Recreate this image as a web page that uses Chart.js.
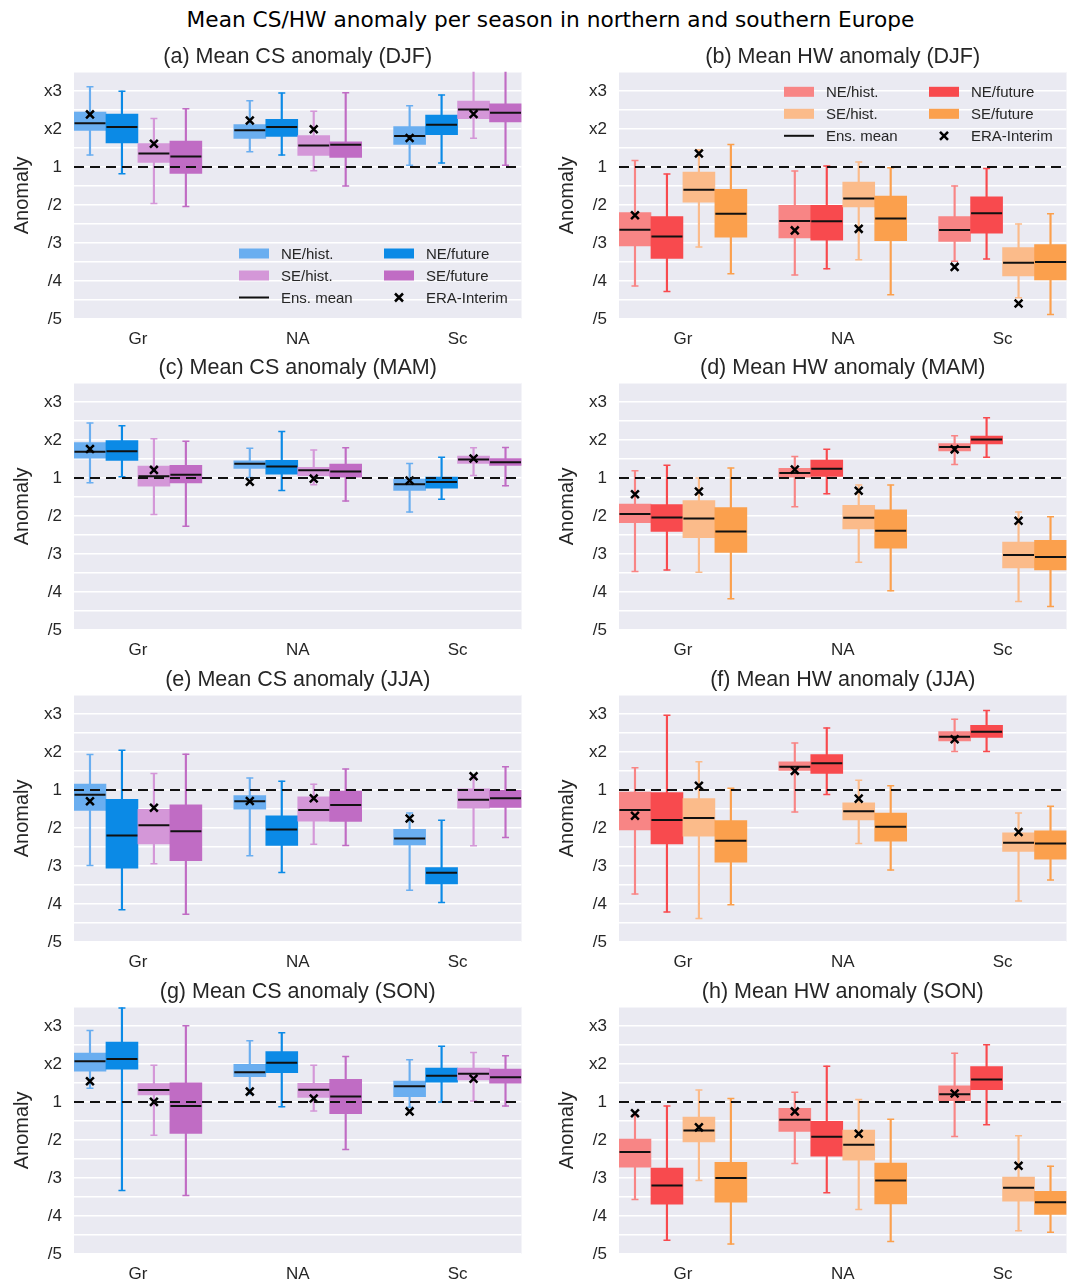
<!DOCTYPE html>
<html>
<head>
<meta charset="utf-8">
<script src="https://cdn.jsdelivr.net/npm/chart.js@4.4.1/dist/chart.umd.min.js"></script>
<style>
html, body { margin: 0; padding: 0; background: #fff; width: 1073px; height: 1282px; overflow: hidden; }
#suptitle { position: absolute; left: 0; top: 7px; width: 1101px; text-align: center; font: 21.7px "DejaVu Sans"; color: #000; }
canvas { position: absolute; }
</style>
</head>
<body>
<div id="suptitle">Mean CS/HW anomaly per season in northern and southern Europe</div>
<script>
const categories = ['Gr', 'NA', 'Sc'];
const seriesNames = ['NE/hist.', 'NE/future', 'SE/hist.', 'SE/future'];
const yTickValues = [-4, -3, -2, -1, 0, 1, 2];
const yTickLabels = ['/5', '/4', '/3', '/2', '1', 'x2', 'x3'];
const csColors = ['#6aaef0', '#0b8ae6', '#d497d8', '#c06cc4'];
const hwColors = ['#f88585', '#f84a4e', '#fbbb8a', '#fba04d'];

// values in axis units: 0 = 1, 1 = x2, 2 = x3, -1 = /2, -2 = /3 ...
// 12 boxes per panel: Gr, NA, Sc, each NE/hist, NE/future, SE/hist, SE/future
// ERA-Interim: Gr NE, Gr SE, NA NE, NA SE, Sc NE, Sc SE

const csDjfLow = [0.31, -0.18, -0.96, -1.04, 0.40, 0.31, -0.10, -0.50, 0.04, 0.10, 0.75, 0.04];
const csDjfQ1 = [0.96, 0.63, 0.12, -0.17, 0.75, 0.80, 0.30, 0.25, 0.59, 0.85, 1.27, 1.18];
const csDjfMed = [1.15, 1.05, 0.35, 0.27, 0.96, 1.05, 0.56, 0.58, 0.81, 1.11, 1.51, 1.42];
const csDjfQ3 = [1.44, 1.39, 0.61, 0.68, 1.11, 1.25, 0.82, 0.66, 1.06, 1.36, 1.73, 1.66];
const csDjfHigh = [2.11, 1.99, 1.27, 1.53, 1.74, 1.94, 1.46, 1.95, 1.61, 1.89, 2.8, 2.8];
const csDjfEra = [1.38, 0.61, 1.22, 0.99, 0.76, 1.39];

const hwDjfLow = [-3.13, -3.28, -2.11, -2.81, -2.84, -2.68, -2.44, -3.36, -2.48, -2.42, -3.44, -3.88];
const hwDjfQ1 = [-2.08, -2.41, -0.93, -1.85, -1.87, -1.93, -1.05, -1.94, -1.96, -1.74, -2.87, -2.97];
const hwDjfMed = [-1.65, -1.83, -0.60, -1.23, -1.42, -1.43, -0.83, -1.36, -1.66, -1.22, -2.52, -2.50];
const hwDjfQ3 = [-1.20, -1.31, -0.14, -0.59, -1.01, -1.01, -0.40, -0.77, -1.31, -0.79, -2.12, -2.04];
const hwDjfHigh = [0.17, -0.19, 0.45, 0.59, -0.11, 0.02, 0.13, -0.02, -0.50, -0.04, -1.50, -1.23];
const hwDjfEra = [-1.27, 0.35, -1.67, -1.63, -2.63, -3.59];

const csMamLow = [-0.13, 0.03, -0.96, -1.27, 0.01, -0.33, -0.18, -0.61, -0.90, -0.56, 0.06, -0.21];
const csMamQ1 = [0.52, 0.46, -0.22, -0.13, 0.25, 0.10, 0.06, 0.02, -0.33, -0.27, 0.38, 0.33];
const csMamMed = [0.69, 0.70, 0.04, 0.08, 0.37, 0.30, 0.20, 0.17, -0.17, -0.11, 0.48, 0.41];
const csMamQ3 = [0.93, 0.98, 0.31, 0.33, 0.45, 0.46, 0.28, 0.36, -0.03, 0.02, 0.57, 0.51];
const csMamHigh = [1.44, 1.37, 1.03, 0.96, 0.78, 1.22, 0.73, 0.79, 0.38, 0.54, 0.79, 0.80];
const csMamEra = [0.76, 0.21, -0.10, -0.02, -0.07, 0.51];

const hwMamLow = [-2.46, -2.42, -2.48, -3.18, -0.76, -0.42, -2.22, -2.97, 0.35, 0.54, -3.25, -3.38];
const hwMamQ1 = [-1.18, -1.41, -1.57, -1.96, 0.0, 0.04, -1.34, -1.85, 0.71, 0.89, -2.37, -2.42];
const hwMamMed = [-0.95, -1.04, -1.07, -1.41, 0.13, 0.24, -1.05, -1.39, 0.81, 1.01, -2.03, -2.08];
const hwMamQ3 = [-0.69, -0.70, -0.60, -0.78, 0.25, 0.47, -0.72, -0.84, 0.90, 1.10, -1.69, -1.64];
const hwMamHigh = [0.19, 0.33, 0.0, 0.26, 0.56, 0.75, -0.19, -0.19, 1.11, 1.58, -0.90, -1.02];
const hwMamEra = [-0.43, -0.36, 0.22, -0.34, 0.75, -1.13];

const csJjaLow = [-1.99, -3.15, -1.94, -3.27, -1.73, -2.17, -1.43, -1.46, -2.64, -2.96, -1.47, -1.25];
const csJjaQ1 = [-0.54, -2.06, -1.42, -1.86, -0.51, -1.46, -0.82, -0.83, -1.45, -2.47, -0.48, -0.46];
const csJjaMed = [-0.13, -1.20, -0.93, -1.09, -0.30, -1.04, -0.53, -0.40, -1.28, -2.18, -0.26, -0.22];
const csJjaQ3 = [0.15, -0.25, -0.51, -0.39, -0.15, -0.68, -0.18, -0.03, -1.04, -2.04, 0.03, -0.01];
const csJjaHigh = [0.93, 1.04, 0.43, 0.94, 0.31, 0.23, 0.15, 0.55, -0.61, -0.80, 0.35, 0.61];
const csJjaEra = [-0.30, -0.47, -0.29, -0.22, -0.75, 0.36];

const hwJjaLow = [-2.74, -3.21, -3.38, -3.02, -0.58, -0.12, -1.41, -2.11, 1.01, 1.01, -2.92, -2.37];
const hwJjaQ1 = [-1.05, -1.42, -1.22, -1.90, 0.51, 0.43, -0.79, -1.35, 1.29, 1.38, -1.62, -1.82];
const hwJjaMed = [-0.53, -0.79, -0.74, -1.34, 0.61, 0.70, -0.56, -0.97, 1.40, 1.53, -1.39, -1.41];
const hwJjaQ3 = [-0.06, -0.07, -0.23, -0.81, 0.74, 0.93, -0.34, -0.61, 1.53, 1.70, -1.13, -1.08];
const hwJjaHigh = [0.58, 1.96, 0.74, 0.04, 1.23, 1.63, 0.25, 0.11, 1.86, 2.09, -0.61, -0.43];
const hwJjaEra = [-0.68, 0.11, 0.50, -0.23, 1.33, -1.11];

const csSonLow = [0.36, -2.33, -0.88, -2.46, 0.21, -0.13, -0.24, -1.25, -0.14, 0.0, 0.02, -0.11];
const csSonQ1 = [0.81, 0.86, 0.18, -0.83, 0.66, 0.77, 0.12, -0.31, 0.14, 0.52, 0.58, 0.49];
const csSonMed = [1.07, 1.13, 0.31, -0.11, 0.78, 1.03, 0.32, 0.14, 0.41, 0.69, 0.74, 0.65];
const csSonQ3 = [1.28, 1.57, 0.48, 0.50, 0.99, 1.32, 0.49, 0.59, 0.55, 0.89, 0.89, 0.86];
const csSonHigh = [1.88, 2.47, 0.96, 2.0, 1.61, 1.82, 0.96, 1.19, 1.11, 1.46, 1.30, 1.21];
const csSonEra = [0.54, 0.0, 0.27, 0.09, -0.25, 0.61];

const hwSonLow = [-2.57, -3.64, -2.07, -3.74, -1.62, -2.39, -2.83, -3.67, -0.91, -0.60, -3.39, -3.43];
const hwSonQ1 = [-1.72, -2.69, -1.05, -2.64, -0.78, -1.43, -1.53, -2.68, 0.03, 0.32, -2.61, -2.96];
const hwSonMed = [-1.32, -2.20, -0.75, -2.0, -0.47, -0.92, -1.13, -2.07, 0.20, 0.59, -2.26, -2.64];
const hwSonQ3 = [-0.98, -1.74, -0.40, -1.59, -0.17, -0.51, -0.74, -1.61, 0.42, 0.93, -1.98, -2.35];
const hwSonHigh = [-0.34, -0.11, 0.31, 0.09, 0.25, 0.94, 0.06, -0.46, 1.28, 1.50, -0.89, -1.69];
const hwSonEra = [-0.30, -0.67, -0.25, -0.84, 0.22, -1.68];

const legendLabels = [...seriesNames, 'Ens. mean', 'ERA-Interim'];

const panels = [
    { title: '(a) Mean CS anomaly (DJF)', palette: csColors, low: csDjfLow, q1: csDjfQ1, med: csDjfMed, q3: csDjfQ3, high: csDjfHigh, era: csDjfEra, legend: 'bottom' },
    { title: '(b) Mean HW anomaly (DJF)', palette: hwColors, low: hwDjfLow, q1: hwDjfQ1, med: hwDjfMed, q3: hwDjfQ3, high: hwDjfHigh, era: hwDjfEra, legend: 'top' },
    { title: '(c) Mean CS anomaly (MAM)', palette: csColors, low: csMamLow, q1: csMamQ1, med: csMamMed, q3: csMamQ3, high: csMamHigh, era: csMamEra },
    { title: '(d) Mean HW anomaly (MAM)', palette: hwColors, low: hwMamLow, q1: hwMamQ1, med: hwMamMed, q3: hwMamQ3, high: hwMamHigh, era: hwMamEra },
    { title: '(e) Mean CS anomaly (JJA)', palette: csColors, low: csJjaLow, q1: csJjaQ1, med: csJjaMed, q3: csJjaQ3, high: csJjaHigh, era: csJjaEra },
    { title: '(f) Mean HW anomaly (JJA)', palette: hwColors, low: hwJjaLow, q1: hwJjaQ1, med: hwJjaMed, q3: hwJjaQ3, high: hwJjaHigh, era: hwJjaEra },
    { title: '(g) Mean CS anomaly (SON)', palette: csColors, low: csSonLow, q1: csSonQ1, med: csSonMed, q3: csSonQ3, high: csSonHigh, era: csSonEra },
    { title: '(h) Mean HW anomaly (SON)', palette: hwColors, low: hwSonLow, q1: hwSonQ1, med: hwSonMed, q3: hwSonQ3, high: hwSonHigh, era: hwSonEra }
];

// slot positions on the x axis: 4 boxes per region and one empty slot between regions
const boxX = [];
const eraX = [];
categories.forEach((c, g) => {
    seriesNames.forEach((s, i) => boxX.push(g * 5 + i));
    eraX.push(g * 5, g * 5 + 2);
});
const groupCenters = categories.map((c, g) => g * 5 + 1.5);

const colLeft = [0, 545];
const rowTop = [43.9, 355.2, 667.2, 978.5];
const textColor = '#262626';
const fontFamily = 'Liberation Sans';

const axesBackground = {
    id: 'axesBackground',
    beforeDraw(chart) {
        const { ctx, chartArea: a } = chart;
        ctx.save();
        ctx.fillStyle = '#eaeaf2';
        ctx.fillRect(a.left, a.top, a.right - a.left, a.bottom - a.top);
        ctx.restore();
    }
};

const boxLegend = {
    id: 'boxLegend',
    afterDraw(chart, args, opts) {
        if (!opts.where) return;
        const { ctx, chartArea: a } = chart;
        const x0 = a.left + 165, colGap = 145, rowGap = 22;
        const y0 = opts.where === 'top' ? a.top + 20 : a.bottom - 21.5 - 2 * rowGap;
        ctx.save();
        ctx.font = `15px "${fontFamily}"`;
        ctx.textBaseline = 'middle';
        legendLabels.forEach((label, k) => {
            const x = x0 + (k % 2) * colGap;
            const y = y0 + Math.floor(k / 2) * rowGap;
            if (k < 4) {
                ctx.fillStyle = opts.colors[k];
                ctx.fillRect(x, y - 5, 30, 10);
            } else if (k === 4) {
                ctx.strokeStyle = '#111';
                ctx.lineWidth = 2;
                ctx.beginPath();
                ctx.moveTo(x, y);
                ctx.lineTo(x + 30, y);
                ctx.stroke();
            } else {
                ctx.strokeStyle = '#000';
                ctx.lineWidth = 2.5;
                ctx.beginPath();
                ctx.moveTo(x + 11, y - 4);
                ctx.lineTo(x + 19, y + 4);
                ctx.moveTo(x + 19, y - 4);
                ctx.lineTo(x + 11, y + 4);
                ctx.stroke();
            }
            ctx.fillStyle = textColor;
            ctx.fillText(label, x + 42, y + 1);
        });
        ctx.restore();
    }
};

const makePanel = (p, left, top) => {
    const canvas = document.createElement('canvas');
    canvas.width = 530;
    canvas.height = 311;
    canvas.style.left = left + 'px';
    canvas.style.top = top + 'px';
    document.body.appendChild(canvas);

    const colors = boxX.map((x, i) => p.palette[i % 4]);
    const caps = [];
    const capColors = [];
    boxX.forEach((x, i) => {
        caps.push({ x: x, y: p.low[i] }, { x: x, y: p.high[i] });
        capColors.push(colors[i], colors[i]);
    });

    new Chart(canvas, {
        type: 'bar',
        data: {
            datasets: [
                {
                    type: 'line',
                    data: [{ x: -0.5, y: 0 }, { x: 13.5, y: 0 }],
                    borderColor: '#111',
                    borderWidth: 2,
                    borderDash: [10, 6],
                    pointRadius: 0,
                    order: 0,
                    clip: 0
                },
                {
                    type: 'scatter',
                    data: eraX.map((x, i) => ({ x: x, y: p.era[i] })),
                    pointStyle: 'crossRot',
                    pointRadius: 5.5,
                    pointBorderColor: '#000',
                    pointBorderWidth: 2.5,
                    order: 1,
                    clip: 0
                },
                {
                    type: 'scatter',
                    data: boxX.map((x, i) => ({ x: x, y: p.med[i] })),
                    pointStyle: 'line',
                    pointRadius: 15.5,
                    pointBorderColor: '#111',
                    pointBorderWidth: 2,
                    order: 2,
                    clip: 0
                },
                {
                    type: 'bar',
                    data: boxX.map((x, i) => ({ x: x, y: [p.q1[i], p.q3[i]] })),
                    backgroundColor: colors,
                    grouped: false,
                    barPercentage: 1,
                    categoryPercentage: 1,
                    order: 3,
                    clip: 0
                },
                {
                    type: 'bar',
                    data: boxX.map((x, i) => ({ x: x, y: [p.low[i], p.high[i]] })),
                    backgroundColor: colors,
                    grouped: false,
                    barThickness: 1.5,
                    order: 4,
                    clip: 0
                },
                {
                    type: 'scatter',
                    data: caps,
                    pointStyle: 'line',
                    pointRadius: 3.5,
                    pointBorderColor: capColors,
                    pointBorderWidth: 1.5,
                    order: 4,
                    clip: 0
                }
            ]
        },
        options: {
            responsive: false,
            animation: false,
            events: [],
            layout: { autoPadding: false, padding: { left: 0, right: 8.5, top: 0, bottom: 0 } },
            plugins: {
                legend: { display: false },
                tooltip: { enabled: false },
                title: {
                    display: true,
                    fullSize: false,
                    text: p.title,
                    color: textColor,
                    font: { family: fontFamily, size: 21.5, weight: 'normal' },
                    padding: { top: 0, bottom: 2 }
                },
                boxLegend: { where: p.legend, colors: p.palette }
            },
            scales: {
                x: {
                    type: 'linear',
                    min: -0.5,
                    max: 13.5,
                    offset: false,
                    grid: { display: false, offset: false, drawTicks: false },
                    border: { display: false },
                    afterBuildTicks: (s) => { s.ticks = groupCenters.map(v => ({ value: v })); },
                    afterFit: (s) => {
                        s.height = 36;
                        s.paddingLeft = 0;
                        s.paddingRight = 0;
                    },
                    ticks: {
                        padding: 10,
                        color: textColor,
                        font: { family: fontFamily, size: 17 },
                        maxRotation: 0,
                        autoSkip: false,
                        callback: (v, i) => categories[i]
                    }
                },
                y: {
                    min: -4,
                    max: 2.5,
                    afterFit: (s) => { s.width = 74; },
                    grid: { color: '#ffffff', lineWidth: 1.5, drawTicks: false },
                    border: { display: false },
                    ticks: {
                        stepSize: 0.5,
                        padding: 12,
                        color: textColor,
                        font: { family: fontFamily, size: 17 },
                        autoSkip: false,
                        callback: (v) => {
                            const k = yTickValues.indexOf(v);
                            return k < 0 ? '' : yTickLabels[k];
                        }
                    },
                    title: {
                        display: true,
                        text: 'Anomaly',
                        color: textColor,
                        font: { family: fontFamily, size: 20 },
                        padding: { top: 10.5, bottom: 0 }
                    }
                }
            }
        },
        plugins: [axesBackground, boxLegend]
    });
};

panels.forEach((p, i) => makePanel(p, colLeft[i % 2], rowTop[Math.floor(i / 2)]));
</script>
</body>
</html>
